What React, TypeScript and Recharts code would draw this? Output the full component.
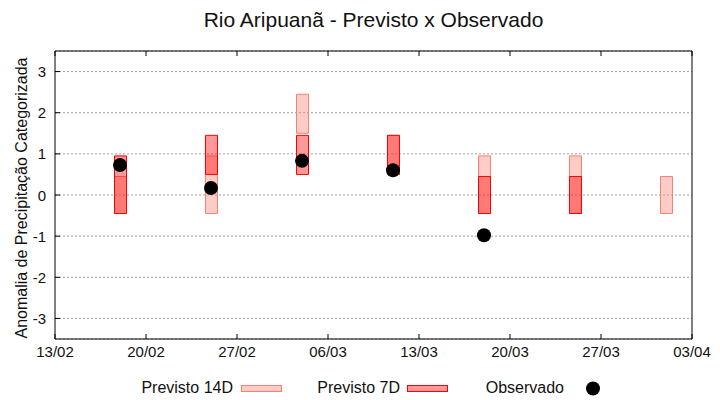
import { ComposedChart, Bar, Scatter, XAxis, YAxis, CartesianGrid, Legend } from 'recharts'

// forecast dates (dd/mm) and the categorised anomaly ranges
const dates = ['18/02', '25/02', '04/03', '11/03', '18/03', '25/03', '01/04']
const prev14Low = [-0.45, -0.45, 1.5, 0.5, -0.45, -0.45, -0.45]
const prev14High = [0.45, 0.95, 2.45, 1.45, 0.95, 0.95, 0.45]
const prev7Low = [-0.45, 0.5, 0.5, 0.5, -0.45, -0.45, null]
const prev7High = [0.95, 1.45, 1.45, 1.45, 0.45, 0.45, null]
const observed = [0.73, 0.17, 0.83, 0.6, -0.98, null, null]

const xTickLabels = ['13/02', '20/02', '27/02', '06/03', '13/03', '20/03', '27/03', '03/04']
const yTicks = [-3, -2, -1, 0, 1, 2, 3]

const FONT = '"Liberation Sans", Arial, sans-serif'
const TEXT = '#111'

// days since the first tick date
const dayOf = (s: string) => {
  const [d, m] = s.split('/').map(Number)
  return (Date.UTC(2025, m - 1, d) - Date.UTC(2025, 1, 13)) / 86400000
}

const xTicks = xTickLabels.map(dayOf)

const chartData = dates.map((d, i) => ({
  x: dayOf(d),
  p14: [prev14Low[i], prev14High[i]],
  p7: prev7Low[i] == null ? null : [prev7Low[i], prev7High[i]],
}))

const obsData = dates
  .map((d, i) => ({ x: dayOf(d), y: observed[i] }))
  .filter(o => o.y != null)

function BottomTick({ x, y, payload }: any) {
  const label = xTickLabels[xTicks.indexOf(payload.value)]
  return (
    <g>
      <line x1={x} y1={y} x2={x} y2={y - 5} stroke="#000" />
      <text x={x} y={y + 18} textAnchor="middle" fontSize={15} fontFamily={FONT} fill={TEXT}>
        {label}
      </text>
    </g>
  )
}

function TopTick({ x, y }: any) {
  return <line x1={x} y1={y} x2={x} y2={y + 5} stroke="#000" />
}

function LeftTick({ x, y, payload }: any) {
  return (
    <g>
      <line x1={x} y1={y} x2={x + 5} y2={y} stroke="#000" />
      <text x={x - 9} y={y + 5.5} textAnchor="end" fontSize={15} fontFamily={FONT} fill={TEXT}>
        {payload.value}
      </text>
    </g>
  )
}

function RightTick({ x, y }: any) {
  return <line x1={x} y1={y} x2={x - 5} y2={y} stroke="#000" />
}

function YLabel() {
  return (
    <text
      x={26.5}
      y={198}
      transform="rotate(-90, 26.5, 198)"
      textAnchor="middle"
      fontSize={16}
      fontFamily={FONT}
      fill={TEXT}
    >
      Anomalia de Precipitação Categorizada
    </text>
  )
}

const C14_FILL = 'rgba(250,128,114,0.4)'
const C14_LINE = '#fa8072'
const C7_FILL = 'rgba(255,0,0,0.4)'
const C7_LINE = '#ff0000'

function LegendBox() {
  const t = { fontSize: 16, fontFamily: FONT, fill: TEXT }
  return (
    <svg width={720} height={26} style={{ display: 'block' }}>
      <text x={233} y={18} textAnchor="end" {...t}>Previsto 14D</text>
      <rect x={241.5} y={10.5} width={40} height={6} fill={C14_FILL} stroke={C14_LINE} />
      <text x={400} y={18} textAnchor="end" {...t}>Previsto 7D</text>
      <rect x={407.5} y={10.5} width={40} height={6} fill={C7_FILL} stroke={C7_LINE} />
      <text x={564} y={18} textAnchor="end" {...t}>Observado</text>
      <circle cx={593} cy={13.5} r={7} fill="#000" />
    </svg>
  )
}

const renderDot = (props: any) => <circle cx={props.cx} cy={props.cy} r={7} fill="#000" />

export default function App() {
  return (
    <div style={{ position: 'absolute', left: 0, top: 0, width: 720, height: 400, background: '#fff' }}>
      <div
        style={{
          position: 'absolute',
          left: 55,
          top: 9,
          width: 637,
          textAlign: 'center',
          fontFamily: FONT,
          fontSize: 21,
          lineHeight: '21px',
          color: TEXT,
        }}
      >
        Rio Aripuanã - Previsto x Observado
      </div>
      <ComposedChart
        width={720}
        height={400}
        data={chartData}
        margin={{ top: 0, right: 0, bottom: 0, left: 0 }}
      >
        <CartesianGrid
          xAxisId="b"
          yAxisId="l"
          vertical={false}
          stroke="#a0a0a0"
          strokeDasharray="2 2"
        />
        <XAxis
          xAxisId="b"
          dataKey="x"
          type="number"
          domain={[xTicks[0], xTicks[xTicks.length - 1]]}
          ticks={xTicks}
          height={61}
          tickSize={0}
          tickMargin={0}
          tickLine={false}
          axisLine={{ stroke: '#000' }}
          tick={<BottomTick />}
          interval={0}
        />
        <XAxis
          xAxisId="t"
          dataKey="x"
          type="number"
          orientation="top"
          domain={[xTicks[0], xTicks[xTicks.length - 1]]}
          ticks={xTicks}
          height={51}
          tickSize={0}
          tickMargin={0}
          tickLine={false}
          axisLine={{ stroke: '#000' }}
          tick={<TopTick />}
          interval={0}
        />
        <YAxis
          yAxisId="l"
          type="number"
          domain={[-3.5, 3.5]}
          ticks={yTicks}
          width={55}
          tickSize={0}
          tickMargin={0}
          tickLine={false}
          axisLine={{ stroke: '#000' }}
          tick={<LeftTick />}
          interval={0}
          label={<YLabel />}
        />
        <YAxis
          yAxisId="r"
          orientation="right"
          type="number"
          domain={[-3.5, 3.5]}
          ticks={yTicks}
          width={28}
          tickSize={0}
          tickMargin={0}
          tickLine={false}
          axisLine={{ stroke: '#000' }}
          tick={<RightTick />}
          interval={0}
        />
        <Bar
          xAxisId="b"
          yAxisId="l"
          dataKey="p14"
          name="Previsto 14D"
          barSize={12}
          fill={C14_FILL}
          stroke={C14_LINE}
          strokeWidth={1}
          isAnimationActive={false}
        />
        <Bar
          xAxisId="t"
          yAxisId="l"
          dataKey="p7"
          name="Previsto 7D"
          barSize={12}
          fill={C7_FILL}
          stroke={C7_LINE}
          strokeWidth={1}
          isAnimationActive={false}
        />
        <Scatter
          xAxisId="b"
          yAxisId="l"
          data={obsData}
          dataKey="y"
          name="Observado"
          fill="#000"
          shape={renderDot}
          isAnimationActive={false}
        />
        <Legend
          layout="horizontal"
          verticalAlign="middle"
          align="center"
          wrapperStyle={{ top: 375, left: 0, width: 720, height: 26 }}
          content={() => <LegendBox />}
        />
      </ComposedChart>
    </div>
  )
}
